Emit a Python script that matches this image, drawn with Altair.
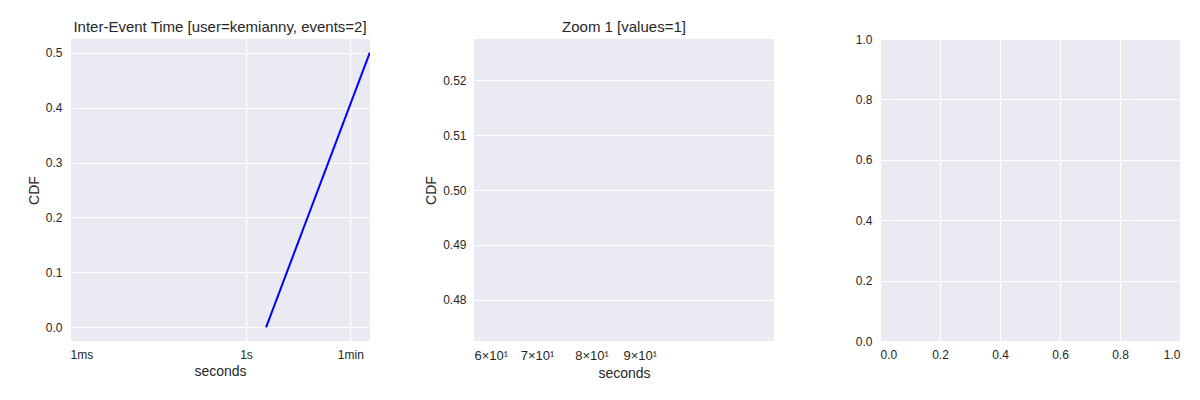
import altair as alt
import pandas as pd

BG = "#EAEAF2"
LINE_COLOR = "#0000FF"
W, H = 300, 302

# left panel: inter-event time CDF
iet_seconds = [2.2, 129.0]
iet_cdf = [0.0, 0.5]
left_ticks = [0.001, 1, 60]
left_labels = ["1ms", "1s", "1min"]

# middle panel: zoom ticks
zoom_ticks = [60, 70, 80, 90]
zoom_labels = ["6×10¹", "7×10¹", "8×10¹", "9×10¹"]

FONT = "Liberation Sans"


def label_expr(values, labels):
    parts = " : ".join(f"datum.value == {v} ? '{l}'" for v, l in zip(values, labels))
    return parts + " : ''"


left_df = pd.DataFrame({"seconds": iet_seconds, "cdf": iet_cdf})
left = (
    alt.Chart(left_df, title="Inter-Event Time [user=kemianny, events=2]")
    .mark_line(color=LINE_COLOR, strokeWidth=2, clip=True)
    .encode(
        x=alt.X("seconds:Q", title="seconds",
                scale=alt.Scale(type="log", domain=[0.001, 130], nice=False),
                axis=alt.Axis(values=left_ticks, labelExpr=label_expr(left_ticks, left_labels))),
        y=alt.Y("cdf:Q", title="CDF",
                scale=alt.Scale(domain=[-0.025, 0.525], nice=False, zero=False),
                axis=alt.Axis(values=[0, 0.1, 0.2, 0.3, 0.4, 0.5], format=".1f")),
    )
    .properties(width=W, height=H)
)

dummy = pd.DataFrame({"seconds": [80], "cdf": [0.5]})
middle = (
    alt.Chart(dummy, title="Zoom 1 [values=1]")
    .mark_point(opacity=0)
    .encode(
        x=alt.X("seconds:Q", title="seconds",
                scale=alt.Scale(type="log", domain=[60, 125], nice=False),
                axis=alt.Axis(values=zoom_ticks, grid=False, labelFontSize=13,
                              labelExpr=label_expr(zoom_ticks, zoom_labels))),
        y=alt.Y("cdf:Q", title="CDF",
                scale=alt.Scale(domain=[0.4725, 0.5275], nice=False, zero=False),
                axis=alt.Axis(values=[0.48, 0.49, 0.50, 0.51, 0.52], format=".2f")),
    )
    .properties(width=W, height=H)
)

right_df = pd.DataFrame({"x": [0.5], "y": [0.5]})
right = (
    alt.Chart(right_df)
    .mark_point(opacity=0)
    .encode(
        x=alt.X("x:Q", title=None, scale=alt.Scale(domain=[0, 1], nice=False),
                axis=alt.Axis(values=[0, 0.2, 0.4, 0.6, 0.8, 1.0], format=".1f")),
        y=alt.Y("y:Q", title=None, scale=alt.Scale(domain=[0, 1], nice=False),
                axis=alt.Axis(values=[0, 0.2, 0.4, 0.6, 0.8, 1.0], format=".1f")),
    )
    .properties(width=W, height=H)
)

chart = (
    alt.hconcat(alt.hconcat(left, middle, spacing=54), right, spacing=81)
    .properties(padding={"left": 19, "top": 12, "right": 5, "bottom": 5})
    .configure_view(fill=BG, stroke=None)
    .configure_axis(
        domain=False, ticks=False, gridColor="white", gridWidth=1.2,
        labelFont=FONT, labelFontSize=12, labelColor="#262626", labelPadding=8,
        titleFont=FONT, titleFontSize=14, titleFontWeight="normal", titleColor="#262626",
    )
    .configure_title(font=FONT, fontSize=15, fontWeight="normal", color="#262626")
)

chart.save("out.html", embed_options={"renderer": "svg", "actions": False})
